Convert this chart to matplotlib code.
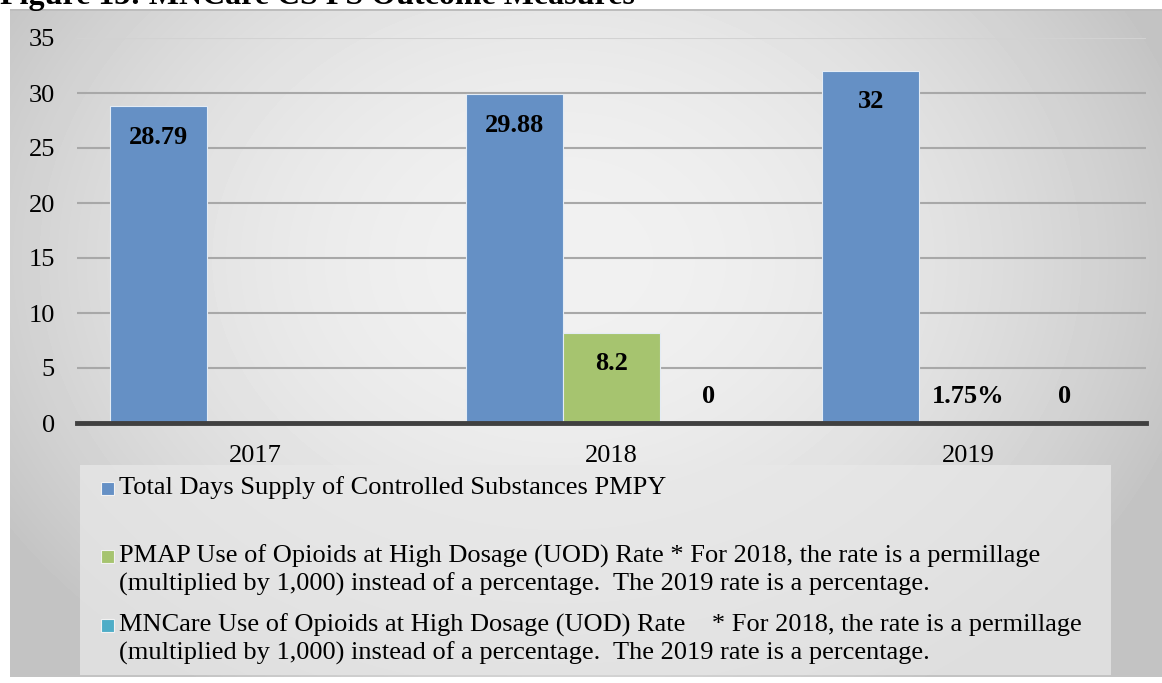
import numpy as np
import matplotlib
matplotlib.use("Agg")
import matplotlib.pyplot as plt
from matplotlib.patches import Rectangle

plt.rcParams['font.family'] = ['Liberation Serif', 'DejaVu Serif']

W, H = 1162, 683

TITLE = "Figure 13: MNCare CS PS Outcome Measures"
YEARS = ["2017", "2018", "2019"]
SERIES = [
    "Total Days Supply of Controlled Substances PMPY",
    "PMAP Use of Opioids at High Dosage (UOD) Rate * For 2018, the rate is a permillage\n"
    "(multiplied by 1,000) instead of a percentage.  The 2019 rate is a percentage.",
    "MNCare Use of Opioids at High Dosage (UOD) Rate    * For 2018, the rate is a permillage\n"
    "(multiplied by 1,000) instead of a percentage.  The 2019 rate is a percentage.",
]
COLORS = ["#6590c5", "#a6c46f", "#4fadc7"]

days_supply = [28.79, 29.88, 32]
pmap_uod = [np.nan, 8.2, 0.0175]      # 2019 value is a rate (1.75%)
mncare_uod = [np.nan, 0, 0]
pmap_labels = [None, "8.2", "1.75%"]


def px_x(x):
    return x / W


def px_y(y):
    # pixel rows counted from the top
    return 1 - y / H


fig = plt.figure(figsize=(W / 100, H / 100), dpi=100)

# chart area background: soft radial grey gradient
bg = fig.add_axes([0, 0, 1, 1], zorder=-10)
yy, xx = np.mgrid[0:H, 0:W]
r = np.sqrt(((xx - 560) / 620.0) ** 2 + ((yy - 260) / 480.0) ** 2)
shade = np.clip(0.945 - 0.16 * r ** 2, 0.765, 1)
img = np.ones((H, W))
inside = (xx >= 10) & (yy >= 9) & (yy <= 676)
img[inside] = shade[inside]
img[9:11, 10:] = 0.74
bg.imshow(img, cmap='gray', vmin=0, vmax=1, aspect='auto', interpolation='bilinear')
bg.set_axis_off()

# title text, mostly cropped by the top edge
fig.text(0.0, px_y(4), TITLE, fontsize=23, fontweight='bold', ha='left', va='baseline')

ax = fig.add_axes([px_x(77), px_y(423), px_x(1146 - 77), (423 - 38) / H])
ax.set_facecolor('none')

x = np.arange(len(YEARS))
width = 97 / 356
series_vals = [days_supply, pmap_uod, mncare_uod]
for k, (vals, color) in enumerate(zip(series_vals, COLORS)):
    pos = x + (k - 1) * width
    ax.bar(pos, vals, width, color=color, edgecolor='#e4ecf5', linewidth=0.8, zorder=2)
    for i, v in enumerate(vals):
        if np.isnan(v):
            continue
        label = pmap_labels[i] if k == 1 else f"{v:g}"
        ax.text(pos[i], max(v - 2.8, 2.4), label, ha='center', va='center',
                fontsize=19, fontweight='bold', zorder=3)

ax.set_xlim(-0.5, 2.5)
ax.set_ylim(0, 35)
ax.set_yticks(range(0, 36, 5))
ax.set_xticks(x)
ax.set_xticklabels(YEARS)
for y in range(5, 36, 5):
    ax.axhline(y, color='#d2d2d2' if y == 35 else '#a8a8a8', lw=1.5, zorder=1)
ax.axhline(0, color='#404040', lw=3.5, zorder=4, clip_on=False)
for s in ax.spines.values():
    s.set_visible(False)
ax.tick_params(axis='both', length=0, labelsize=19)
ax.tick_params(axis='y', pad=16)
ax.tick_params(axis='x', pad=16)

# legend panel below the plot
fig.patches.append(Rectangle((px_x(80), px_y(675)), px_x(1111 - 80), (675 - 465) / H,
                             transform=fig.transFigure, facecolor='#e8e8e8', alpha=0.75,
                             edgecolor='none', zorder=-5))
item_y = [488, 556, 625]
for name, color, yc in zip(SERIES, COLORS, item_y):
    fig.patches.append(Rectangle((px_x(101), px_y(yc + 6.5)), px_x(13), 13 / H,
                                 transform=fig.transFigure, facecolor=color,
                                 edgecolor='#f2f2f2', linewidth=0.8))
    for j, line in enumerate(name.split("\n")):
        fig.text(px_x(119), px_y(yc + 28 * j), line, fontsize=19, ha='left', va='center')

fig.savefig("out.png", dpi=100)
